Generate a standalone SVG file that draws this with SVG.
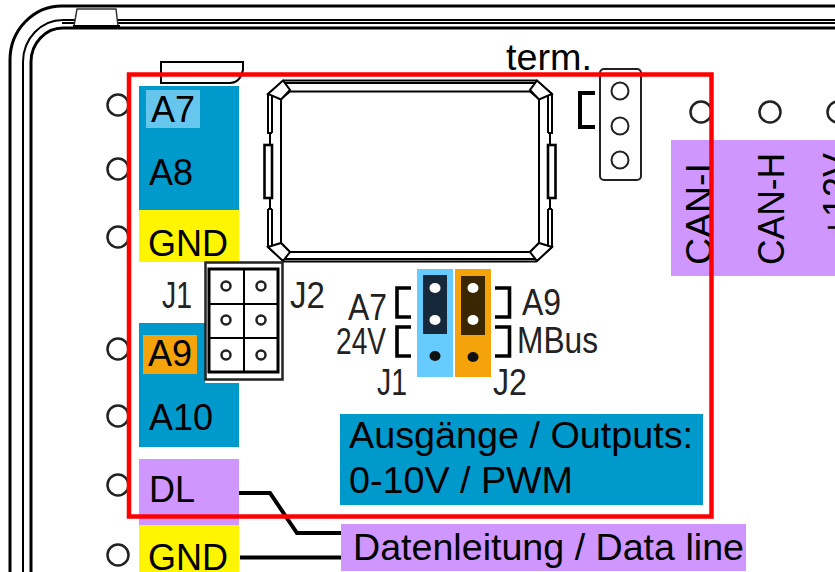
<svg xmlns="http://www.w3.org/2000/svg" xmlns:xlink="http://www.w3.org/1999/xlink" width="835" height="572" viewBox="0 0 835 572">
<style>
text{font-family:"Liberation Sans",Arial,sans-serif;font-size:36px;fill:#000}
.sm{fill:#222}
.ln{fill:none;stroke:#000;stroke-width:2}
.th{fill:none;stroke:#000;stroke-width:3}
.br{fill:none;stroke:#000;stroke-width:3.6}
.wire{fill:none;stroke:#000;stroke-width:4}
.pin{fill:#fff;stroke:#222;stroke-width:2.5}
.blue{fill:#0099cc}
.yel{fill:#fff500}
.pur{fill:#cf96ff}
.org{fill:#f5a30a}
</style>
<defs>
<g id="half" class="ln">
<path d="M410 80.500H284L268 94V133H272M268 209H272M268 209V247L284 261.500H410"/>
<path d="M410 83H284M410 91.500H290L281 99V243L290 252H410M410 259H284"/>
<path d="M272 94V133M272 209V247M270 133V145M270 198V209"/>
<path d="M268 94L283 80.500L290 90L281 99.500Z M268 247L283 261L290 252L281 243Z" fill="#fff"/>
<rect x="264.500" y="145" width="7.500" height="53" fill="#fff" style="stroke-width:2.6"/>
</g>
</defs>
<rect width="835" height="572" fill="#fff"/>
<g id="frame">
<path class="th" d="M10 572V60A52 54 0 0 1 62 6H835"/>
<path class="ln" d="M23 572V62A40 42 0 0 1 63 20H835M62 23H835"/>
<path class="th" d="M31 572V62A32 34 0 0 1 63 28H835"/>
<path d="M77 9H116L118 26H74Z" fill="#fff" stroke="#333" stroke-width="1.500"/>
<path d="M73 26.500H120" class="th"/>
</g>
<g id="terminals" class="pin">
<circle cx="118" cy="105" r="10.500"/><circle cx="118" cy="169" r="10.500"/><circle cx="118" cy="237" r="10.500"/>
<circle cx="118" cy="349" r="10.500"/><circle cx="118" cy="416" r="10.500"/><circle cx="118" cy="485" r="10.500"/><circle cx="118" cy="555" r="10.500"/>
<circle cx="701" cy="112" r="10.500"/><circle cx="770" cy="112" r="10.500"/><circle cx="838" cy="112" r="10.500"/>
</g>
<g id="connectors">
<path class="wire" d="M239 493H270L297 533H341M240 557.500H341"/>
</g>
<g id="tab"><path class="ln" d="M161 62H243V70Q240 83 230 83H161Z"/></g>
<g id="a7-a8">
<rect class="blue" x="139" y="86" width="100" height="124"/>
<rect x="146" y="90" width="54" height="38" fill="#66c6ee"/>
<text x="151" y="122">A7</text><text x="149" y="185">A8</text>
</g>
<g id="gnd-1"><rect class="yel" x="139" y="210" width="100" height="52"/><text x="148" y="256">GND</text></g>
<g id="a9-a10">
<path class="blue" d="M139 323H205V383H239V447H139Z"/>
<rect class="org" x="143" y="335" width="54" height="39"/>
<text x="148" y="366">A9</text><text x="149" y="430">A10</text>
</g>
<g id="dl"><rect class="pur" x="139" y="459" width="100" height="66"/><text x="149" y="502">DL</text></g>
<g id="gnd-2"><rect class="yel" x="139" y="525" width="100" height="47"/><text x="148" y="570">GND</text></g>
<g id="display">
<use xlink:href="#half" href="#half"/>
<use xlink:href="#half" href="#half" transform="matrix(-1 0 0 1 820 0)"/>
</g>
<g id="header">
<rect x="205.500" y="262.500" width="77" height="117" fill="#fff" stroke="#222" stroke-width="2.500"/>
<path class="th" d="M209 269H278V372H209Z"/>
<path class="ln" d="M209 304H278M209 338H278M244 269V372"/>
<g fill="none" stroke="#222" stroke-width="2.500">
<circle cx="226" cy="286" r="4.500"/><circle cx="261" cy="286" r="4.500"/>
<circle cx="226" cy="320" r="4.500"/><circle cx="261" cy="320" r="4.500"/>
<circle cx="226" cy="355" r="4.500"/><circle cx="261" cy="355" r="4.500"/>
</g>
<text class="sm" x="162" y="308" textLength="30" lengthAdjust="spacingAndGlyphs">J1</text>
<text class="sm" x="290" y="308" textLength="35" lengthAdjust="spacingAndGlyphs">J2</text>
</g>
<g id="jumper-j1">
<rect x="417" y="269" width="36" height="108" fill="#66ccff"/>
<rect x="423" y="275" width="24" height="59" fill="#16293a"/>
<ellipse cx="435" cy="288" rx="5.500" ry="5" fill="#fff"/><ellipse cx="435" cy="320" rx="5.500" ry="5" fill="#fff"/><ellipse cx="435" cy="356" rx="5.500" ry="5" fill="#111"/>
<path class="br" d="M411 288H397V317H411M411 327H397V356H411"/>
<text class="sm" x="348" y="320" textLength="39" lengthAdjust="spacingAndGlyphs">A7</text>
<text class="sm" x="336" y="354" textLength="50" lengthAdjust="spacingAndGlyphs">24V</text>
<text class="sm" x="377" y="395" textLength="30" lengthAdjust="spacingAndGlyphs">J1</text>
</g>
<g id="jumper-j2">
<rect x="455" y="269" width="36" height="108" fill="#f5a30a"/>
<rect x="461" y="276" width="24" height="59" fill="#3a2600"/>
<ellipse cx="473" cy="288" rx="5.500" ry="5" fill="#fff"/><ellipse cx="473" cy="320" rx="5.500" ry="5" fill="#fff"/><ellipse cx="473" cy="357" rx="5.500" ry="5" fill="#111"/>
<path class="br" d="M495 288H509.500V317H495M495 327H509.500V356H495"/>
<text class="sm" x="522" y="315" textLength="39" lengthAdjust="spacingAndGlyphs">A9</text>
<text class="sm" x="517" y="353" textLength="81" lengthAdjust="spacingAndGlyphs">MBus</text>
<text class="sm" x="493" y="395" textLength="34" lengthAdjust="spacingAndGlyphs">J2</text>
</g>
<g id="term">
<text x="506" y="70" textLength="86" lengthAdjust="spacingAndGlyphs">term.</text>
<path d="M595 93H580V127H595" fill="none" stroke="#000" stroke-width="4"/>
<rect x="600" y="69" width="41" height="111" rx="4" fill="#fff" stroke="#222" stroke-width="2"/>
<g fill="none" stroke="#222" stroke-width="2"><circle cx="620" cy="91" r="8.500"/><circle cx="620" cy="126" r="8.500"/><circle cx="620" cy="160" r="8.500"/></g>
</g>
<g id="can">
<rect class="pur" x="671" y="140" width="164" height="136"/>
<text transform="translate(712 265) rotate(-90)" textLength="102" lengthAdjust="spacingAndGlyphs">CAN-I</text>
<text transform="translate(784 265) rotate(-90)" textLength="112" lengthAdjust="spacingAndGlyphs">CAN-H</text>
<text transform="translate(849 238) rotate(-90)">+12V</text>
</g>
<g id="outputs">
<rect class="blue" x="340" y="414" width="363" height="91"/>
<text x="349" y="448" textLength="344" lengthAdjust="spacingAndGlyphs">Ausgänge / Outputs:</text>
<text x="349" y="493" textLength="224" lengthAdjust="spacingAndGlyphs">0-10V / PWM</text>
</g>
<g id="dataline">
<rect class="pur" x="341" y="524" width="405" height="47"/>
<text x="353" y="560" textLength="391" lengthAdjust="spacingAndGlyphs">Datenleitung / Data line</text>
</g>
<rect id="highlight" x="129" y="74.500" width="582.500" height="442" fill="none" stroke="#ff0000" stroke-width="4.500"/>
</svg>
